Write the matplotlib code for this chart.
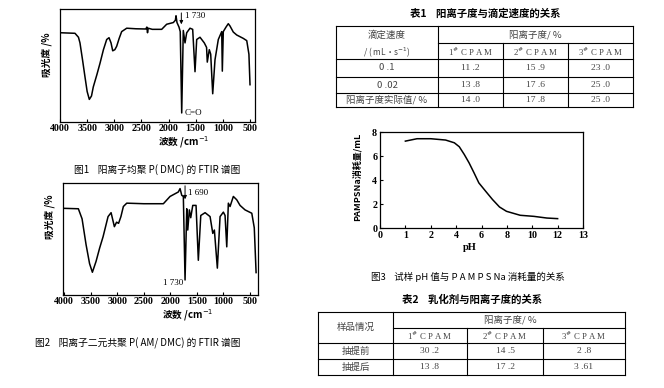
import numpy as np
import matplotlib
matplotlib.use('Agg')
import matplotlib.pyplot as plt

plt.rcParams['font.family'] = ['Noto Sans CJK SC', 'DejaVu Sans']
plt.rcParams['axes.unicode_minus'] = False

W, H = 664., 388.

# ---- data ----
# fig 1: P(DMC) FTIR (wavenumber, absorbance %)
wn1 = [4000, 3724, 3660, 3632, 3585, 3540, 3500, 3460, 3420, 3387, 3320, 3263, 3200, 3140,
       3097, 3060, 3029, 2990, 2956, 2910, 2864, 2771, 2600, 2420, 2400, 2388, 2375, 2300,
       2127, 2035, 1913, 1875, 1863, 1845, 1808, 1785, 1758, 1729, 1697, 1666, 1605, 1556,
       1513, 1482, 1421, 1342, 1300, 1287, 1250, 1224, 1187, 1145, 1084, 1021, 1010, 992,
       942, 900, 869, 808, 745, 624, 560, 520, 500]
ab1 = [79, 78.5, 75, 70, 55, 40, 27, 20, 23, 31, 42, 52, 64, 73,
       74.6, 70, 63, 64, 67, 74, 80, 83, 82.5, 82.3, 84, 79, 83, 82,
       82, 86.5, 88, 90, 94, 88, 84, 80, 8, 81, 70, 79, 83, 82,
       44.5, 73, 75, 70, 66, 53, 64, 60, 25, 55, 73, 80, 45, 80,
       84, 87, 85, 79.6, 77, 74, 72, 60, 33]

# fig 2: P(AM/DMC) FTIR
wn2 = [4019, 3731, 3661, 3586, 3520, 3467, 3398, 3330, 3266, 3172, 3115, 3053, 3012, 2974,
       2930, 2884, 2820, 2500, 2131, 2005, 1849, 1817, 1785, 1755, 1723, 1691, 1672, 1642,
       1616, 1578, 1516, 1473, 1427, 1346, 1252, 1201, 1171, 1115, 1064, 1002, 970, 938,
       908, 876, 814, 750, 688, 594, 467, 420, 386]
ab2 = [77.4, 77, 68, 45, 28, 20.3, 30, 42, 52, 70, 73.5, 61, 65, 64,
       70, 79, 82, 81.5, 81.5, 88, 92, 95, 89, 88, 13.4, 77, 58, 76,
       69, 80, 80, 31, 71, 73.5, 70, 55, 58, 24, 70, 74, 71, 43,
       82, 79, 88, 85, 80, 76, 73, 60, 20]

# fig 3: PAMPS Na consumption vs pH
ph = [1.0, 1.46, 2.0, 3.17, 3.86, 4.25, 4.64, 5.02, 5.41, 5.79, 6.33, 6.87, 7.42, 7.97,
      9.05, 10.13, 11.15, 12.0]
vol = [7.24, 7.44, 7.44, 7.33, 7.1, 6.77, 6.13, 5.43, 4.6, 3.76, 3.06, 2.37, 1.75, 1.39,
       1.06, 0.97, 0.83, 0.78]
ph_ticks = [0, 1, 2, 4, 6, 8, 10, 12, 13]

# table 1
t1_rates = ['0 .1', '0 .02', '阳离子度实际值/ %']
t1_cols = ['1$^{\\#}$ C P A M', '2$^{\\#}$ C P A M', '3$^{\\#}$ C P A M']
t1_vals = [['11 .2', '15 .9', '23 .0'],
           ['13 .8', '17 .6', '25 .0'],
           ['14 .0', '17 .8', '25 .0']]

# table 2
t2_rows = ['抽提前', '抽提后']
t2_vals = [['30 .2', '14 .5', '2 .8'],
           ['13 .8', '17 .2', '3 .61']]


def px_axes(fig, x0, y0, x1, y1):
    return fig.add_axes([x0 / W, 1 - y1 / H, (x1 - x0) / W, (y1 - y0) / H])


fig = plt.figure(figsize=(6.64, 3.88), dpi=100)
fig.patch.set_facecolor('white')

# overlay in pixel coordinates for captions and tables
ov = fig.add_axes([0, 0, 1, 1], zorder=-1)
ov.set_xlim(0, W)
ov.set_ylim(H, 0)
ov.axis('off')

tick_font = dict(family='Liberation Serif', weight='bold', size=7.2)
fp = matplotlib.font_manager.FontProperties(**tick_font)


def spectrum(ax, wn, ab, xlim):
    ax.plot(wn, ab, color='black', lw=1.1)
    ax.set_xlim(*xlim)
    ax.set_ylim(0, 100)
    ax.set_yticks([])
    ax.set_xticks([4000, 3500, 3000, 2500, 2000, 1500, 1000, 500])
    ax.tick_params(axis='x', direction='in', length=2, pad=1.5)
    for lab in ax.get_xticklabels():
        lab.set_fontproperties(fp)
    for s in ax.spines.values():
        s.set_linewidth(0.9)


# fig 1
ax1 = px_axes(fig, 60, 9, 255, 122)
spectrum(ax1, wn1, ab1, (4000, 408))
ax1.annotate('', xy=(1765, 84), xytext=(1765, 99),
             arrowprops=dict(arrowstyle='-|>', lw=0.7, color='black', mutation_scale=5))
ax1.text(1700, 94, '1 730', fontsize=6.5, family='Liberation Serif', va='center')
ax1.text(1700, 8, 'C=O', fontsize=6.5, family='Liberation Serif', va='center')
ov.text(47, 55, '吸光度 /%', rotation=90, ha='center', va='center', fontsize=7, weight='bold')
ov.text(184, 142, '波数 /cm$^{-1}$', ha='center', va='center', fontsize=7, weight='bold')
ov.text(157, 170, '图1    阳离子均聚 P( DMC) 的 FTIR 谱图', ha='center', va='center', fontsize=7)

# fig 2
ax2 = px_axes(fig, 63, 183, 258, 295)
spectrum(ax2, wn2, ab2, (4020, 350))
ax2.annotate('', xy=(1723, 83), xytext=(1723, 100),
             arrowprops=dict(arrowstyle='-|>', lw=0.7, color='black', mutation_scale=5))
ax2.text(1660, 91, '1 690', fontsize=6.5, family='Liberation Serif', va='center')
ax2.text(1765, 11, '1 730', fontsize=6.5, family='Liberation Serif', va='center', ha='right')
ov.text(50, 217, '吸光度 /%', rotation=90, ha='center', va='center', fontsize=7, weight='bold')
ov.text(188, 315, '波数 /cm$^{-1}$', ha='center', va='center', fontsize=7, weight='bold')
ov.text(138, 343, '图2    阳离子二元共聚 P( AM/ DMC) 的 FTIR 谱图', ha='center', va='center', fontsize=7)

# fig 3
pos = np.arange(len(ph_ticks))
fwd = lambda v: np.interp(v, ph_ticks, pos)
inv = lambda v: np.interp(v, pos, ph_ticks)
ax3 = px_axes(fig, 380, 132, 583, 228)
ax3.plot(ph, vol, color='black', lw=1.1)
ax3.set_xscale('function', functions=(fwd, inv))
ax3.set_xlim(0, 13)
ax3.set_ylim(0, 8)
ax3.set_xticks(ph_ticks)
ax3.set_yticks([0, 2, 4, 6, 8])
ax3.tick_params(direction='in', length=2, pad=2)
ax3.minorticks_off()
for lab in ax3.get_xticklabels() + ax3.get_yticklabels():
    lab.set_fontproperties(fp)
for s in ax3.spines.values():
    s.set_linewidth(0.9)
ov.text(357, 177, 'PAMPSNa消耗量/mL', rotation=90, ha='center', va='center', fontsize=6.5, weight='bold')
ov.text(470, 248, 'pH', ha='center', va='center', fontsize=7.5, weight='bold', family='Liberation Serif')
ov.text(468, 277, '图3    试样 pH 值与 P A M P S Na 消耗量的关系', ha='center', va='center', fontsize=6.8)

# ---- table 1 ----
lc = dict(color='black', lw=0.8)
tc = '#444444'
ov.text(485, 14, '表1    阳离子度与滴定速度的关系', ha='center', va='center', fontsize=7.5, weight='bold')
x0, xa, xb, xc, x1 = 336, 438, 503, 568, 633
for y in [26, 59, 77, 93, 107]:
    ov.plot([x0, x1], [y, y], **lc)
ov.plot([xa, x1], [43, 43], **lc)
for x in [x0, xa, x1]:
    ov.plot([x, x], [26, 107], **lc)
for x in [xb, xc]:
    ov.plot([x, x], [43, 107], **lc)
ov.text((x0 + xa) / 2, 35, '滴定速度', ha='center', va='center', fontsize=6.8, color=tc)
ov.text((x0 + xa) / 2, 52, '/ ( mL·s$^{-1}$)', ha='center', va='center', fontsize=6, color=tc)
ov.text((xa + x1) / 2, 35, '阳离子度/ %', ha='center', va='center', fontsize=6.8, color=tc)
cx = [(xa + xb) / 2, (xb + xc) / 2, (xc + x1) / 2]
for c, name in zip(cx, t1_cols):
    ov.text(c, 52, name, ha='center', va='center', fontsize=6.3, color=tc, family='Liberation Serif')
for i, (yy, r) in enumerate(zip([68, 85, 100], t1_rates)):
    ov.text((x0 + xa) / 2, yy, r, ha='center', va='center', fontsize=6.8, color=tc)
    for c, v in zip(cx, t1_vals[i]):
        ov.text(c, yy, v, ha='center', va='center', fontsize=6.8, color=tc, family='Liberation Serif')

# ---- table 2 ----
ov.text(472, 300, '表2    乳化剂与阳离子度的关系', ha='center', va='center', fontsize=7.5, weight='bold')
x0, xa, xb, xc, x1 = 318, 393, 467, 543, 625
for y in [312, 343, 359, 375]:
    ov.plot([x0, x1], [y, y], **lc)
ov.plot([xa, x1], [328, 328], **lc)
for x in [x0, xa, x1]:
    ov.plot([x, x], [312, 375], **lc)
for x in [xb, xc]:
    ov.plot([x, x], [328, 375], **lc)
ov.text((x0 + xa) / 2, 327.5, '样品情况', ha='center', va='center', fontsize=6.8, color=tc)
ov.text(510, 320, '阳离子度/ %', ha='center', va='center', fontsize=6.8, color=tc)
cx = [(xa + xb) / 2, (xb + xc) / 2, (xc + x1) / 2]
for c, name in zip(cx, t1_cols):
    ov.text(c, 336, name, ha='center', va='center', fontsize=6.3, color=tc, family='Liberation Serif')
for i, (yy, r) in enumerate(zip([351, 367], t2_rows)):
    ov.text((x0 + xa) / 2, yy, r, ha='center', va='center', fontsize=6.8, color=tc)
    for c, v in zip(cx, t2_vals[i]):
        ov.text(c, yy, v, ha='center', va='center', fontsize=6.8, color=tc, family='Liberation Serif')

fig.savefig('out.png', dpi=100, facecolor='white')
